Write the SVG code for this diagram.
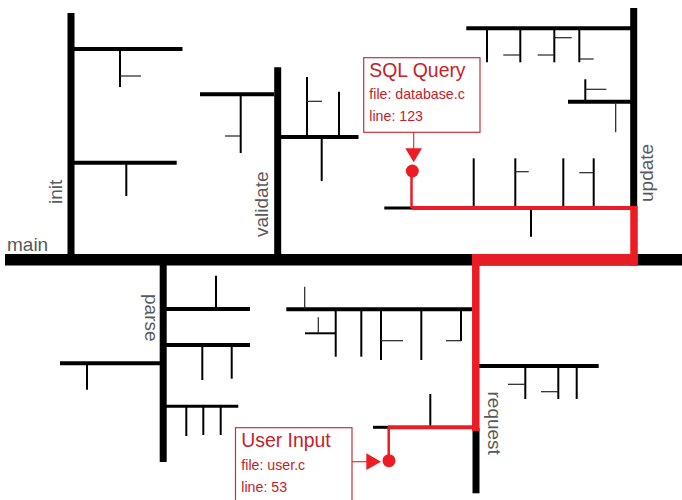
<svg xmlns="http://www.w3.org/2000/svg" width="682" height="500" viewBox="0 0 682 500">
<style>
line,path{fill:none;stroke:#000}
.w7{stroke-width:7}
.w4{stroke-width:4}
.w3{stroke-width:3}
.w2{stroke-width:2}
.w1{stroke-width:1.2;stroke:#222}
.lbl{font:19px "Liberation Sans",Arial,sans-serif;fill:#58595b}
.t1{font:19.4px "Liberation Sans",Arial,sans-serif;fill:#c4222b}
.t2{font:14.2px "Liberation Sans",Arial,sans-serif;fill:#c4222b}
.box{fill:#fff;stroke:#c9313a;stroke-width:1.2}
.red{stroke:#ed1c24}
.lead{stroke:#e0333b;stroke-width:1.2}
.hot{fill:#ed1c24;stroke:none}
</style>
<rect width="682" height="500" fill="#fff"/>
<g id="init">
<line class="w7" x1="71" y1="13" x2="71" y2="254"/>
<line class="w4" x1="74" y1="49" x2="182.500" y2="49"/>
<line class="w2" x1="120" y1="49" x2="120" y2="87"/>
<line class="w1" x1="120" y1="76" x2="141" y2="76"/>
<line class="w4" x1="74" y1="162.700" x2="176.700" y2="162.700"/>
<line class="w2" x1="126.300" y1="162" x2="126.300" y2="196"/>
<text class="lbl" transform="translate(62 204) rotate(-90)">init</text>
</g>
<g id="validate">
<line class="w7" x1="277.700" y1="67.300" x2="277.700" y2="254"/>
<line class="w4" x1="200" y1="94.300" x2="274" y2="94.300"/>
<line class="w2" x1="240.700" y1="94" x2="240.700" y2="153"/>
<line class="w1" x1="225" y1="136" x2="240" y2="136"/>
<line class="w4" x1="281" y1="137" x2="358.500" y2="137"/>
<line class="w2" x1="307" y1="77" x2="307" y2="137"/>
<line class="w1" x1="307" y1="101.300" x2="322" y2="101.300"/>
<line class="w2" x1="339" y1="91.700" x2="339" y2="137"/>
<line class="w2" x1="321.700" y1="137" x2="321.700" y2="181"/>
<text class="lbl" transform="translate(268 237) rotate(-90)">validate</text>
</g>
<g id="update">
<line class="w7" x1="633.700" y1="8" x2="633.700" y2="207"/>
<line class="w4" x1="466.300" y1="28.300" x2="631" y2="28.300"/>
<line class="w2" x1="487" y1="28" x2="487" y2="62.300"/>
<line class="w2" x1="520.300" y1="28" x2="520.300" y2="62.300"/>
<line class="w1" x1="503.300" y1="55" x2="520" y2="55"/>
<line class="w2" x1="554.300" y1="28" x2="554.300" y2="62.300"/>
<line class="w1" x1="537.700" y1="55" x2="554" y2="55"/>
<line class="w1" x1="554" y1="37.700" x2="571.700" y2="37.700"/>
<line class="w2" x1="579.300" y1="28" x2="579.300" y2="62.300"/>
<line class="w1" x1="579" y1="59" x2="593.700" y2="59"/>
<line class="w4" x1="568" y1="101.700" x2="631" y2="101.700"/>
<line class="w2" x1="585.300" y1="79.300" x2="585.300" y2="101"/>
<line class="w1" x1="585" y1="89.300" x2="606.300" y2="89.300"/>
<line class="w1" x1="615.700" y1="102" x2="615.700" y2="132.300"/>
<line class="w3" x1="384.300" y1="208" x2="412" y2="208"/>
<line class="w2" x1="473.700" y1="158.300" x2="473.700" y2="207"/>
<line class="w2" x1="515.300" y1="158.300" x2="515.300" y2="207"/>
<line class="w1" x1="515" y1="171.700" x2="528.700" y2="171.700"/>
<line class="w2" x1="563.300" y1="158.300" x2="563.300" y2="207"/>
<line class="w2" x1="593.700" y1="158.300" x2="593.700" y2="207"/>
<line class="w1" x1="579.300" y1="172.700" x2="593" y2="172.700"/>
<line class="w2" x1="531" y1="209" x2="531" y2="236.700"/>
<text class="lbl" transform="translate(652.500 202) rotate(-90)">update</text>
</g>
<g id="parse">
<line class="w7" x1="163.200" y1="265" x2="163.200" y2="462"/>
<line class="w4" x1="166" y1="309" x2="250" y2="309"/>
<line class="w2" x1="216" y1="275.700" x2="216" y2="309"/>
<line class="w4" x1="166" y1="345" x2="250" y2="345"/>
<line class="w2" x1="202.300" y1="345" x2="202.300" y2="380"/>
<line class="w2" x1="231.700" y1="345" x2="231.700" y2="378.700"/>
<line class="w4" x1="60" y1="363.300" x2="160" y2="363.300"/>
<line class="w2" x1="87" y1="363" x2="87" y2="389.700"/>
<line class="w3" x1="166" y1="406.300" x2="238.300" y2="406.300"/>
<line class="w2" x1="186.300" y1="406" x2="186.300" y2="436"/>
<line class="w2" x1="203.300" y1="406" x2="203.300" y2="435"/>
<line class="w2" x1="220.700" y1="406" x2="220.700" y2="435"/>
<text class="lbl" transform="translate(145 294) rotate(90)">parse</text>
</g>
<g id="request">
<line class="w7" x1="476" y1="428" x2="476" y2="493.300"/>
<line class="w4" x1="286.300" y1="309.300" x2="472" y2="309.300"/>
<line class="w1" x1="304.700" y1="286.700" x2="304.700" y2="309"/>
<line class="w2" x1="335.700" y1="309" x2="335.700" y2="356.700"/>
<line class="w2" x1="305" y1="333.300" x2="335" y2="333.300"/>
<line class="w1" x1="318.300" y1="317.300" x2="318.300" y2="333"/>
<line class="w2" x1="361.300" y1="309" x2="361.300" y2="356.700"/>
<line class="w2" x1="381" y1="309" x2="381" y2="360"/>
<line class="w1" x1="381" y1="340.700" x2="403" y2="340.700"/>
<line class="w2" x1="421.300" y1="309" x2="421.300" y2="360"/>
<line class="w2" x1="461" y1="309" x2="461" y2="341"/>
<line class="w1" x1="446" y1="340.700" x2="461" y2="340.700"/>
<line class="w4" x1="479" y1="366" x2="598.700" y2="366"/>
<line class="w2" x1="525.300" y1="366" x2="525.300" y2="399"/>
<line class="w1" x1="508" y1="384.300" x2="525" y2="384.300"/>
<line class="w2" x1="558.300" y1="366" x2="558.300" y2="399"/>
<line class="w1" x1="541" y1="391.700" x2="558" y2="391.700"/>
<line class="w2" x1="576.700" y1="366" x2="576.700" y2="399"/>
<line class="w3" x1="373" y1="427.300" x2="389" y2="427.300"/>
<line class="w2" x1="430.300" y1="394" x2="430.300" y2="426"/>
<text class="lbl" transform="translate(487.500 391.500) rotate(90)">request</text>
</g>
<g id="main">
<line stroke-width="11.500" x1="5" y1="259.700" x2="682" y2="259.700"/>
<text class="lbl" x="7" y="250.500">main</text>
</g>
<g id="connectors">
<line style="stroke:#e31e26" stroke-width="11.500" x1="472" y1="259.700" x2="637.700" y2="259.700"/>
<path class="red" stroke-width="7.500" d="M634 206V266"/>
<path class="red w4" d="M411.500 208H634"/>
<path class="red" stroke-width="2.500" d="M411.500 208V171"/>
<path class="red" stroke-width="7.500" d="M475.800 254V431"/>
<path class="red w4" d="M388 427.300H476"/>
<path class="red" stroke-width="2.500" d="M388.700 427V460"/>
<line class="lead" x1="413.700" y1="132" x2="413.700" y2="150"/>
<line class="lead" x1="352" y1="461.700" x2="368" y2="461.700"/>
</g>
<g id="sql-query">
<rect class="box" x="363.700" y="57.700" width="116.300" height="74.600"/>
<text class="t1" x="369.300" y="77.300">SQL Query</text>
<text class="t2" x="369.300" y="99.300">file: database.c</text>
<text class="t2" x="369.300" y="121.300">line: 123</text>
<polygon class="hot" points="405.300,148.300 422,148.300 413.700,162.300"/>
<circle class="hot" cx="412.300" cy="171" r="6.500"/>
</g>
<g id="user-input">
<rect class="box" x="235.500" y="427.700" width="116.500" height="80"/>
<text class="t1" x="241.300" y="447.300">User Input</text>
<text class="t2" x="241.300" y="470">file: user.c</text>
<text class="t2" x="241.300" y="491.700">line: 53</text>
<polygon class="hot" points="366.300,453.300 366.300,470 381,461.700"/>
<circle class="hot" cx="389" cy="460.700" r="6.500"/>
</g>
</svg>
